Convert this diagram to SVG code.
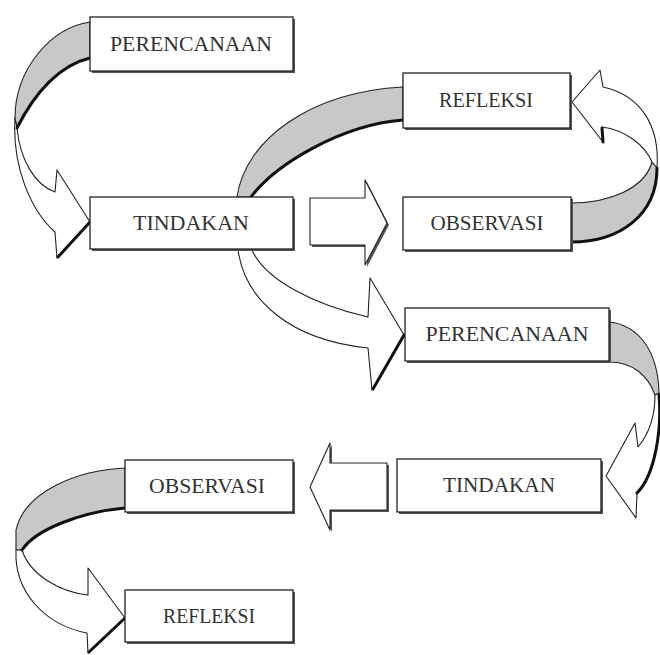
<svg xmlns="http://www.w3.org/2000/svg" width="660" height="655" viewBox="0 0 660 655">
<style>
.bx{fill:#fff;stroke:#222;stroke-width:1.3}
.bs{fill:#555}
.t{font-family:"Liberation Serif","Times New Roman",serif;font-size:20px;fill:#333;text-anchor:middle}
.g{fill:#c8c8c8;stroke:#222;stroke-width:1.1;stroke-linejoin:round}
.w{fill:#fff;stroke:#222;stroke-width:1.1;stroke-linejoin:round}
.sh{fill:none;stroke:#111;stroke-width:3;stroke-linecap:round}
</style>
<rect width="660" height="655" fill="#fff"/>
<g id="connectors">
  <!-- A: PERENCANAAN -> TINDAKAN -->
  <path class="g" d="M90,22 C50,28 15,70 15,118 L17,128 C35,92 60,65 90,58 Z"/>
  <path class="w" d="M15,118 C12,165 30,210 55,232 L57,258 L90,222 L57,170 L55,192 C35,185 20,160 17,128 Z"/>
  <path class="sh" d="M90,58 C60,65 35,92 17,128"/>
  <path class="sh" d="M90,222 L58,257"/>
  <!-- B: TINDAKAN -> REFLEKSI (gray arc) -->
  <path class="g" d="M237,197 C245,140 310,92 403,87 L403,120 C340,125 275,165 251,197 Z"/>
  <path class="sh" d="M403,120 C340,125 275,165 251,197"/>
  <!-- C: OBSERVASI -> REFLEKSI -->
  <path class="g" d="M571,242 C620,242 657,215 657,168 L652,162 C645,188 610,203 571,203 Z"/>
  <path class="w" d="M657,168 C660,125 640,95 603,87 L600,70 L572,102 L603,142 L602,127 C625,130 645,145 652,162 Z"/>
  <path class="sh" d="M571,242 C620,242 657,215 657,168"/>
  <path class="sh" d="M603,142 L602,128"/>
  <!-- middle block arrow -->
  <path class="bs" d="M312,200 L367,200 L367,182 L389,225 L367,267 L367,247 L312,247 Z"/>
  <path class="w" d="M310,198 L365,198 L365,180 L387,223 L365,265 L365,245 L310,245 Z"/>
  <!-- D: TINDAKAN -> PERENCANAAN 2 -->
  <path class="w" d="M238,250 C245,300 290,340 368,348 L372,390 L404,335 L370,278 L368,317 C315,305 265,280 252,250 Z"/>
  <path class="sh" d="M404,335 L373,389"/>
  <!-- E: PERENCANAAN 2 -> TINDAKAN 2 -->
  <path class="g" d="M609,322 C638,325 658,350 659,393 L655,395 C648,375 632,362 609,362 Z"/>
  <path class="w" d="M659,393 C662,430 655,475 637,493 L636,518 L606,476 L635,423 L638,447 C648,435 655,420 655,395 Z"/>
  <path class="sh" d="M659,395 C662,430 655,475 637,493"/>
  <!-- left block arrow -->
  <path class="bs" d="M389,465 L332,465 L332,445 L312,489 L332,532 L332,512 L389,512 Z"/>
  <path class="w" d="M387,463 L330,463 L330,443 L310,487 L330,530 L330,510 L387,510 Z"/>
  <!-- F: OBSERVASI 2 -> REFLEKSI 2 -->
  <path class="g" d="M125,468 C80,470 25,490 16,530 L16,550 L22,550 C35,530 80,512 125,508 Z"/>
  <path class="w" d="M16,550 C14,592 45,625 87,633 L88,653 L125,618 L88,568 L88,595 C60,592 30,575 22,550 Z"/>
  <path class="sh" d="M125,508 C80,512 35,530 22,550"/>
  <path class="sh" d="M125,618 L89,652"/>
</g>
<g id="n1"><rect class="bs" x="92" y="19" width="203" height="54"/><rect class="bx" x="90" y="17" width="203" height="54"/><text class="t" x="191" y="51" textLength="162" lengthAdjust="spacingAndGlyphs">PERENCANAAN</text></g>
<g id="n2"><rect class="bs" x="92" y="199" width="203" height="52"/><rect class="bx" x="90" y="197" width="203" height="52"/><text class="t" x="191" y="230" textLength="116" lengthAdjust="spacingAndGlyphs">TINDAKAN</text></g>
<g id="n3"><rect class="bs" x="405" y="75" width="167" height="55"/><rect class="bx" x="403" y="73" width="167" height="55"/><text class="t" x="486" y="107" textLength="94" lengthAdjust="spacingAndGlyphs">REFLEKSI</text></g>
<g id="n4"><rect class="bs" x="405" y="199" width="168" height="53"/><rect class="bx" x="403" y="197" width="168" height="53"/><text class="t" x="487" y="230" textLength="113" lengthAdjust="spacingAndGlyphs">OBSERVASI</text></g>
<g id="n5"><rect class="bs" x="407" y="310" width="204" height="53"/><rect class="bx" x="405" y="308" width="204" height="53"/><text class="t" x="507" y="341" textLength="163" lengthAdjust="spacingAndGlyphs">PERENCANAAN</text></g>
<g id="n6"><rect class="bs" x="399" y="461" width="204" height="53"/><rect class="bx" x="397" y="459" width="204" height="53"/><text class="t" x="499" y="492" textLength="112" lengthAdjust="spacingAndGlyphs">TINDAKAN</text></g>
<g id="n7"><rect class="bs" x="127" y="462" width="168" height="52"/><rect class="bx" x="125" y="460" width="168" height="52"/><text class="t" x="207" y="493" textLength="116" lengthAdjust="spacingAndGlyphs">OBSERVASI</text></g>
<g id="n8"><rect class="bs" x="127" y="592" width="168" height="52"/><rect class="bx" x="125" y="590" width="168" height="52"/><text class="t" x="209" y="623" textLength="92" lengthAdjust="spacingAndGlyphs">REFLEKSI</text></g>
</svg>
